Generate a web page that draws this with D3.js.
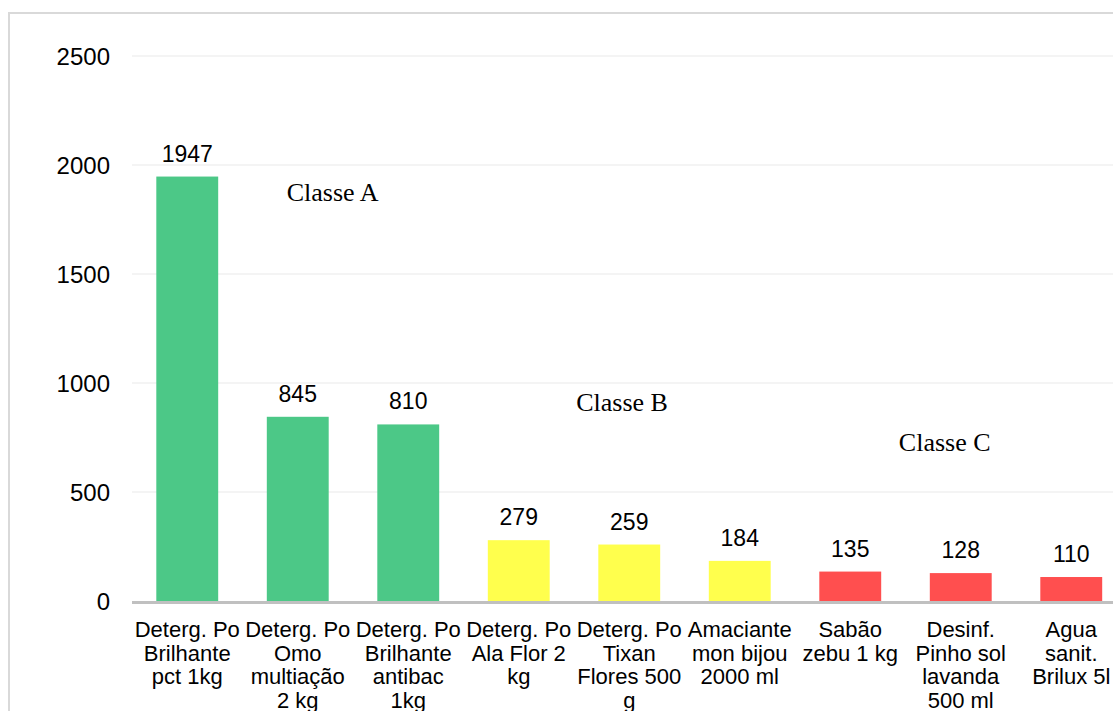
<!DOCTYPE html>
<html>
<head>
<meta charset="utf-8">
<script src="https://cdn.jsdelivr.net/npm/d3@7"></script>
<style>
  html, body { margin: 0; padding: 0; background: #fff; }
  svg { display: block; }
</style>
</head>
<body>
<svg id="chart" width="1113" height="711"></svg>
<script>
const categories = [
  "Deterg. Po\nBrilhante\npct 1kg",
  "Deterg. Po\nOmo\nmultiação\n2 kg",
  "Deterg. Po\nBrilhante\nantibac\n1kg",
  "Deterg. Po\nAla Flor 2\nkg",
  "Deterg. Po\nTixan\nFlores 500\ng",
  "Amaciante\nmon bijou\n2000 ml",
  "Sabão\nzebu 1 kg",
  "Desinf.\nPinho sol\nlavanda\n500 ml",
  "Agua\nsanit.\nBrilux 5l"
];
const values = [1947, 845, 810, 279, 259, 184, 135, 128, 110];
const classes = ["A", "A", "A", "B", "B", "B", "C", "C", "C"];
const yTicks = [0, 500, 1000, 1500, 2000, 2500];
const classLabels = ["Classe A", "Classe B", "Classe C"];
// label anchors: position in category units (left edge of text) and in value units (baseline)
const classLabelPos = [1.40, 4.02, 6.94];
const classLabelVal = [1835, 872, 688];

const colors = {A: "#4cc887", B: "#ffff4d", C: "#ff4f4f"};

const svg = d3.select("#chart");

// outer frame
svg.append("rect")
  .attr("x", 9).attr("y", 13)
  .attr("width", 1200).attr("height", 800)
  .attr("fill", "none").attr("stroke", "#d9d9d9").attr("stroke-width", 2);

const n = categories.length;
const x = d3.scaleBand().domain(d3.range(n))
  .range([132, 132 + 110.5 * n])
  .paddingInner(0.44).paddingOuter(0.22);
const xc = d3.scaleLinear().domain([0, n]).range([132, 132 + 110.5 * n]);
const y = d3.scaleLinear().domain([0, 2500]).range([601, 56]);

// gridlines
svg.append("g").selectAll("line").data(yTicks.filter(d => d > 0)).join("line")
  .attr("x1", 132).attr("x2", 1113)
  .attr("y1", d => y(d)).attr("y2", d => y(d))
  .attr("stroke", "#f0f0f0").attr("stroke-width", 1.5);

// y axis labels
const yAxis = d3.axisLeft(y).tickValues(yTicks).tickFormat(d3.format("d")).tickSize(0).tickPadding(0);
const gy = svg.append("g").attr("transform", "translate(110,0)").call(yAxis);
gy.select(".domain").remove();
gy.selectAll("text")
  .attr("font-family", "'Liberation Sans', Arial, sans-serif")
  .attr("font-size", 24).attr("fill", "#000").attr("dy", "0.36em");

// bars
svg.append("g").selectAll("rect").data(values).join("rect")
  .attr("x", (d, i) => x(i))
  .attr("width", x.bandwidth())
  .attr("y", d => y(d))
  .attr("height", d => y(0) - y(d))
  .attr("fill", (d, i) => colors[classes[i]]);

// x axis line
svg.append("line")
  .attr("x1", 132).attr("x2", 1113)
  .attr("y1", y(0) + 1.5).attr("y2", y(0) + 1.5)
  .attr("stroke", "#c0c0c0").attr("stroke-width", 3);

// value labels
svg.append("g").selectAll("text").data(values).join("text")
  .attr("x", (d, i) => x(i) + x.bandwidth() / 2)
  .attr("y", d => y(d) - 15)
  .attr("text-anchor", "middle")
  .attr("font-family", "'Liberation Sans', Arial, sans-serif")
  .attr("font-size", 23).attr("fill", "#000")
  .text(d => d);

// category labels
const cg = svg.append("g").selectAll("text").data(categories).join("text")
  .attr("text-anchor", "middle")
  .attr("font-family", "'Liberation Sans', Arial, sans-serif")
  .attr("font-size", 22).attr("fill", "#000");
cg.each(function(d, i) {
  const t = d3.select(this);
  d.split("\n").forEach((line, j) => {
    t.append("tspan")
      .attr("x", x(i) + x.bandwidth() / 2)
      .attr("y", 637 + j * 23.5)
      .text(line);
  });
});

// class labels
svg.append("g").selectAll("text").data(classLabels).join("text")
  .attr("x", (d, i) => xc(classLabelPos[i]))
  .attr("y", (d, i) => y(classLabelVal[i]))
  .attr("font-family", "'Liberation Serif', 'Times New Roman', serif")
  .attr("font-size", 26).attr("fill", "#000")
  .text(d => d);
</script>
</body>
</html>
